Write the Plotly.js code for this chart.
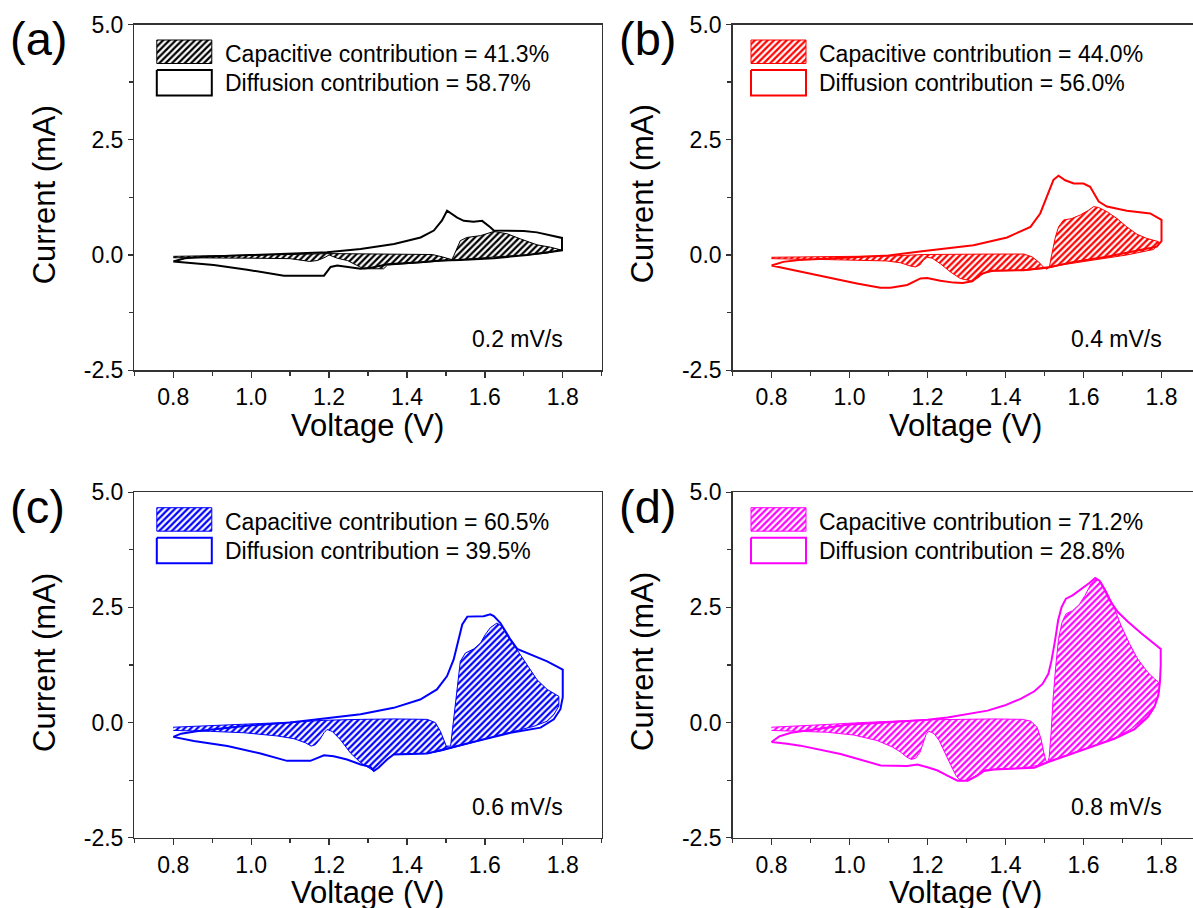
<!DOCTYPE html>
<html>
<head>
<meta charset="utf-8">
<script src="https://cdn.plot.ly/plotly-3.0.1.min.js"></script>
<style>
  html, body { margin: 0; padding: 0; background: #ffffff; overflow: hidden; }
  #chart { width: 1193px; height: 908px; }
</style>
</head>
<body>
<div id="chart"></div>
<script>
// ---------- CV loops (total current) and capacitive contribution loops ----------
// Panel (a) 0.2 mV/s
const cvV_a = [0.80,0.83,0.88,0.95,1.02,1.10,1.195,1.281,1.367,1.435,1.469,1.49,1.503,1.529,1.546,1.571,1.593,1.614,1.623,1.70,1.734,1.798,1.798,1.709,1.623,1.537,1.486,1.435,1.35,1.306,1.281,1.221,1.204,1.187,1.084,0.99,0.904,0.80];
const cvI_a = [-0.14,-0.07,-0.04,-0.02,0.00,0.03,0.06,0.13,0.24,0.38,0.53,0.75,0.96,0.81,0.74,0.72,0.74,0.60,0.53,0.52,0.49,0.37,0.10,0.00,-0.07,-0.11,-0.12,-0.16,-0.20,-0.28,-0.30,-0.23,-0.26,-0.45,-0.45,-0.32,-0.22,-0.14];
const capV_a = [0.80,0.90,1.00,1.10,1.20,1.30,1.40,1.465,1.49,1.515,1.52,1.525,1.537,1.554,1.589,1.623,1.657,1.691,1.734,1.768,1.795,1.76,1.709,1.631,1.537,1.48,1.40,1.35,1.34,1.289,1.27,1.247,1.221,1.20,1.19,1.17,1.15,1.13,1.10,1.00,0.90,0.80];
const capI_a = [-0.03,-0.02,-0.01,0.01,0.03,0.02,0.02,0.01,-0.04,-0.10,-0.02,0.09,0.31,0.38,0.42,0.51,0.46,0.35,0.22,0.17,0.11,0.04,0.00,-0.04,-0.10,-0.14,-0.18,-0.22,-0.30,-0.30,-0.22,-0.12,-0.07,0.00,-0.05,-0.12,-0.14,-0.11,-0.08,-0.07,-0.06,-0.06];

// Panel (b) 0.4 mV/s
const cvV_b = [0.80,0.83,0.87,0.93,1.00,1.10,1.186,1.25,1.318,1.404,1.464,1.489,1.506,1.523,1.536,1.553,1.575,1.600,1.617,1.639,1.660,1.711,1.771,1.800,1.800,1.788,1.745,1.660,1.575,1.515,1.446,1.361,1.336,1.315,1.290,1.267,1.233,1.199,1.182,1.165,1.148,1.105,1.079,1.019,0.934,0.849,0.80];
const cvI_b = [-0.23,-0.15,-0.11,-0.08,-0.05,-0.01,0.08,0.15,0.21,0.38,0.61,0.90,1.26,1.63,1.72,1.62,1.55,1.55,1.48,1.16,1.05,0.96,0.90,0.76,0.30,0.18,0.11,-0.04,-0.15,-0.26,-0.33,-0.34,-0.42,-0.57,-0.61,-0.60,-0.56,-0.50,-0.51,-0.58,-0.65,-0.71,-0.71,-0.62,-0.47,-0.33,-0.23];
const capV_b = [0.80,0.874,0.985,1.113,1.19,1.284,1.37,1.447,1.468,1.485,1.498,1.506,1.513,1.519,1.528,1.536,1.549,1.57,1.592,1.613,1.626,1.639,1.66,1.686,1.711,1.737,1.762,1.792,1.792,1.78,1.711,1.626,1.541,1.506,1.455,1.37,1.344,1.327,1.31,1.284,1.259,1.233,1.212,1.199,1.19,1.18,1.169,1.156,1.131,1.096,1.028,0.943,0.857,0.80];
const capI_b = [-0.05,-0.04,-0.04,-0.02,0.01,0.02,0.02,0.02,-0.04,-0.15,-0.27,-0.31,-0.24,0.03,0.39,0.61,0.76,0.79,0.87,0.97,1.05,1.03,0.94,0.79,0.61,0.45,0.36,0.29,0.22,0.12,0.00,-0.11,-0.22,-0.29,-0.33,-0.35,-0.40,-0.51,-0.56,-0.51,-0.37,-0.19,-0.07,-0.05,-0.11,-0.22,-0.26,-0.24,-0.17,-0.13,-0.11,-0.10,-0.09,-0.08];

// Panel (c) 0.6 mV/s
const cvV_c = [0.80,0.82,0.86,0.90,0.95,1.00,1.10,1.187,1.281,1.366,1.434,1.477,1.503,1.52,1.533,1.542,1.555,1.597,1.614,1.623,1.64,1.666,1.683,1.726,1.76,1.80,1.80,1.794,1.777,1.743,1.666,1.58,1.512,1.452,1.366,1.349,1.327,1.315,1.306,1.281,1.246,1.212,1.187,1.152,1.092,1.024,0.939,0.853,0.80];
const cvI_c = [-0.31,-0.24,-0.19,-0.15,-0.10,-0.06,0.00,0.08,0.18,0.32,0.50,0.72,1.01,1.37,1.80,2.13,2.30,2.31,2.35,2.31,2.16,1.80,1.60,1.45,1.33,1.15,0.55,0.29,0.07,-0.11,-0.22,-0.40,-0.55,-0.67,-0.69,-0.80,-0.98,-1.05,-0.96,-0.91,-0.80,-0.73,-0.71,-0.83,-0.83,-0.67,-0.51,-0.40,-0.31];
const capV_c = [0.80,0.896,1.024,1.11,1.187,1.281,1.366,1.452,1.473,1.486,1.495,1.501,1.512,1.516,1.522,1.529,1.537,1.55,1.572,1.589,1.601,1.614,1.631,1.644,1.661,1.682,1.708,1.734,1.76,1.79,1.79,1.777,1.76,1.726,1.666,1.58,1.512,1.486,1.452,1.366,1.349,1.327,1.315,1.302,1.281,1.255,1.229,1.208,1.195,1.187,1.176,1.165,1.154,1.14,1.11,1.067,0.981,0.896,0.819,0.80];
const capI_c = [-0.10,-0.06,-0.02,0.01,0.05,0.07,0.08,0.07,0.00,-0.19,-0.37,-0.51,-0.51,-0.22,0.35,0.86,1.33,1.51,1.60,1.73,1.91,2.06,2.16,2.09,1.84,1.59,1.26,0.93,0.72,0.57,0.36,0.17,0.03,-0.08,-0.21,-0.40,-0.55,-0.62,-0.67,-0.69,-0.80,-0.98,-1.05,-0.98,-0.87,-0.66,-0.37,-0.19,-0.15,-0.22,-0.37,-0.48,-0.51,-0.44,-0.35,-0.29,-0.22,-0.19,-0.17,-0.17];

// Panel (d) 0.8 mV/s
const cvV_d = [0.80,0.82,0.85,0.90,0.95,1.00,1.071,1.157,1.20,1.251,1.303,1.354,1.397,1.44,1.474,1.495,1.51,1.518,1.527,1.535,1.544,1.555,1.572,1.594,1.615,1.63,1.641,1.654,1.666,1.688,1.714,1.748,1.778,1.798,1.798,1.796,1.792,1.782,1.765,1.731,1.679,1.628,1.585,1.542,1.508,1.474,1.422,1.371,1.345,1.328,1.303,1.277,1.251,1.226,1.200,1.174,1.148,1.080,0.977,0.90,0.874,0.84,0.80];
const cvI_d = [-0.42,-0.30,-0.22,-0.16,-0.09,-0.04,-0.01,0.03,0.06,0.11,0.18,0.26,0.37,0.52,0.68,0.84,1.06,1.35,1.78,2.22,2.51,2.69,2.76,2.89,3.03,3.14,3.08,2.89,2.67,2.40,2.19,1.94,1.73,1.60,1.24,0.88,0.59,0.34,0.12,-0.14,-0.35,-0.50,-0.62,-0.75,-0.86,-0.98,-1.00,-1.02,-1.05,-1.15,-1.26,-1.26,-1.15,-1.04,-0.97,-0.91,-0.94,-0.93,-0.68,-0.55,-0.50,-0.46,-0.42];
const capV_d = [0.80,0.857,0.943,1.029,1.114,1.191,1.285,1.371,1.444,1.465,1.481,1.491,1.498,1.504,1.508,1.512,1.517,1.522,1.529,1.536,1.545,1.555,1.572,1.589,1.604,1.619,1.632,1.645,1.66,1.678,1.696,1.718,1.739,1.765,1.782,1.795,1.793,1.786,1.775,1.756,1.722,1.679,1.628,1.585,1.542,1.512,1.482,1.44,1.388,1.345,1.324,1.303,1.284,1.273,1.26,1.244,1.23,1.217,1.204,1.197,1.19,1.181,1.17,1.159,1.147,1.131,1.11,1.071,1.011,0.943,0.874,0.80];
const capI_d = [-0.10,-0.08,-0.04,0.00,0.03,0.06,0.07,0.08,0.07,0.03,-0.10,-0.35,-0.64,-0.84,-0.87,-0.75,-0.21,0.52,1.24,1.82,2.18,2.36,2.43,2.56,2.76,3.01,3.12,3.05,2.83,2.51,2.11,1.71,1.38,1.09,0.95,0.86,0.66,0.44,0.23,0.07,-0.14,-0.34,-0.50,-0.62,-0.75,-0.84,-0.93,-0.99,-1.00,-1.03,-1.15,-1.26,-1.26,-1.15,-0.93,-0.64,-0.39,-0.24,-0.19,-0.24,-0.42,-0.64,-0.77,-0.80,-0.75,-0.64,-0.53,-0.39,-0.27,-0.21,-0.19,-0.17];

// ---------- labels ----------
const panelLetters = ['(a)', '(b)', '(c)', '(d)'];
const scanRates = ['0.2 mV/s', '0.4 mV/s', '0.6 mV/s', '0.8 mV/s'];
const capPercent = ['41.3%', '44.0%', '60.5%', '71.2%'];
const difPercent = ['58.7%', '56.0%', '39.5%', '28.8%'];
const seriesColors = ['#000000', '#ff0000', '#0000ff', '#ff00ff'];
const xTickVals = [0.8, 1.0, 1.2, 1.4, 1.6, 1.8];
const xTickText = ['0.8', '1.0', '1.2', '1.4', '1.6', '1.8'];
const yTickVals = [-2.5, 0, 2.5, 5];
const yTickText = ['-2.5', '0.0', '2.5', '5.0'];
const xLabel = 'Voltage (V)';
const yLabel = 'Current (mA)';

const cvSets = [[cvV_a, cvI_a], [cvV_b, cvI_b], [cvV_c, cvI_c], [cvV_d, cvI_d]];
const capSets = [[capV_a, capI_a], [capV_b, capI_b], [capV_c, capI_c], [capV_d, capI_d]];

// ---------- page geometry (pixels) ----------
const W = 1193, H = 908;
const FONT = 'Liberation Sans, Arial, Helvetica, sans-serif';
const AXIS_COLOR = '#333333';
const Y_RANGE = [-2.5, 5];
const cols = [
  { l: 134.3, r: 601.7, pxPerV: 389.5, swatchX: 22.5, textX: 89, letterX: 8, titleCX: 367.5, yTitleCX: 44 },
  { l: 732.5, r: 1193, pxPerV: 390.0, swatchX: 18.5, textX: 84, letterX: 617, titleCX: 965.5, yTitleCX: 642 }
];
const rows = [
  { t: 24.5, b: 370.2, letterY: 38.5 },
  { t: 492.2, b: 837.8, letterY: 506 }
];
const panels = [[0, 0], [0, 1], [1, 0], [1, 1]]; // [row, col]

const traces = [];
const annotations = [];
const layout = {
  width: W, height: H,
  margin: { l: 0, r: 0, t: 0, b: 0, pad: 0 },
  paper_bgcolor: 'white', plot_bgcolor: 'white',
  showlegend: false,
  font: { family: FONT, color: '#000000' },
  annotations: annotations
};

panels.forEach(function (rc, i) {
  const row = rows[rc[0]], col = cols[rc[1]];
  const color = seriesColors[i];
  const sfx = i === 0 ? '' : String(i + 1);
  const xId = 'x' + sfx, yId = 'y' + sfx;
  const x0 = 0.7;
  const x1 = x0 + (col.r - col.l) / col.pxPerV;
  const plotH = row.b - row.t;
  const pxPerI = plotH / (Y_RANGE[1] - Y_RANGE[0]);

  // convert an offset (px from the plot's top-left corner) into axis units
  const toX = function (px) { return x0 + px / col.pxPerV; };
  const toY = function (py) { return Y_RANGE[1] - py / pxPerI; };

  layout['xaxis' + sfx] = {
    domain: [col.l / W, col.r / W], range: [x0, x1], anchor: yId,
    showline: true, linecolor: AXIS_COLOR, linewidth: 1.3, mirror: true,
    ticks: 'outside', ticklen: 6, tickwidth: 1.3, tickcolor: AXIS_COLOR,
    tickmode: 'array', tickvals: xTickVals, ticktext: xTickText,
    minor: { dtick: 0.1, tick0: 0.7, ticks: 'outside', ticklen: 4, tickwidth: 1.3, tickcolor: AXIS_COLOR },
    showgrid: false, zeroline: false, fixedrange: true,
    tickfont: { family: FONT, size: 23, color: '#000000' }
  };
  layout['yaxis' + sfx] = {
    domain: [1 - row.b / H, 1 - row.t / H], range: Y_RANGE, anchor: xId,
    showline: true, linecolor: AXIS_COLOR, linewidth: 1.3, mirror: rc[1] === 0,
    ticks: 'outside', ticklen: 5, tickwidth: 1.3, tickcolor: AXIS_COLOR,
    tickmode: 'array', tickvals: yTickVals, ticktext: yTickText,
    minor: { dtick: 1.25, tick0: 0, ticks: 'outside', ticklen: 4, tickwidth: 1.3, tickcolor: AXIS_COLOR },
    showgrid: false, zeroline: false, fixedrange: true,
    tickfont: { family: FONT, size: 23, color: '#000000' }
  };

  const hatch = { shape: '/', fgcolor: color, bgcolor: 'rgba(255,255,255,0)', size: 4.5, solidity: 0.5 };

  // capacitive contribution (hatched loop)
  traces.push({
    x: capSets[i][0], y: capSets[i][1], xaxis: xId, yaxis: yId,
    type: 'scatter', mode: 'lines', fill: 'toself',
    fillcolor: 'rgba(255,255,255,0)', fillpattern: hatch,
    line: { color: color, width: 1 }, hoverinfo: 'skip'
  });
  // total CV curve
  traces.push({
    x: cvSets[i][0], y: cvSets[i][1], xaxis: xId, yaxis: yId,
    type: 'scatter', mode: 'lines',
    line: { color: color, width: 2 }, hoverinfo: 'skip'
  });

  // key swatches
  const sx0 = col.swatchX, sx1 = col.swatchX + 55;
  traces.push({
    x: [toX(sx0), toX(sx1), toX(sx1), toX(sx0), toX(sx0)],
    y: [toY(15.5), toY(15.5), toY(39), toY(39), toY(15.5)],
    xaxis: xId, yaxis: yId, type: 'scatter', mode: 'lines', fill: 'toself',
    fillcolor: 'rgba(255,255,255,0)', fillpattern: hatch,
    line: { color: color, width: 1 }, hoverinfo: 'skip'
  });
  traces.push({
    x: [toX(sx0), toX(sx1), toX(sx1), toX(sx0), toX(sx0)],
    y: [toY(45.5), toY(45.5), toY(71), toY(71), toY(45.5)],
    xaxis: xId, yaxis: yId, type: 'scatter', mode: 'lines', fill: 'toself',
    fillcolor: '#ffffff',
    line: { color: color, width: 2 }, hoverinfo: 'skip'
  });

  const textFont = { family: FONT, size: 23, color: '#000000' };
  const titleFont = { family: FONT, size: 31, color: '#000000' };
  annotations.push({
    xref: 'paper', yref: 'paper', x: (col.l + col.textX) / W, y: 1 - (row.t + 29.5) / H,
    xanchor: 'left', yanchor: 'middle', showarrow: false,
    text: 'Capacitive contribution = ' + capPercent[i], font: textFont
  });
  annotations.push({
    xref: 'paper', yref: 'paper', x: (col.l + col.textX) / W, y: 1 - (row.t + 58.5) / H,
    xanchor: 'left', yanchor: 'middle', showarrow: false,
    text: 'Diffusion contribution = ' + difPercent[i], font: textFont
  });
  annotations.push({
    xref: 'paper', yref: 'paper',
    x: (col.l + (1.8 - x0) * col.pxPerV + 2) / W, y: 1 - (row.b - 31) / H,
    xanchor: 'right', yanchor: 'middle', showarrow: false,
    text: scanRates[i], font: textFont
  });
  // axis titles
  annotations.push({
    xref: 'paper', yref: 'paper', x: col.titleCX / W, y: 1 - (row.b + 55) / H,
    xanchor: 'center', yanchor: 'middle', showarrow: false,
    text: xLabel, font: titleFont
  });
  annotations.push({
    xref: 'paper', yref: 'paper', x: col.yTitleCX / W, y: 1 - ((row.t + row.b) / 2 - 3) / H,
    xanchor: 'center', yanchor: 'middle', showarrow: false, textangle: -90,
    text: yLabel, font: titleFont
  });
  annotations.push({
    xref: 'paper', yref: 'paper', x: col.letterX / W, y: 1 - row.letterY / H,
    xanchor: 'left', yanchor: 'middle', showarrow: false,
    text: panelLetters[i], font: { family: FONT, size: 47, color: '#000000' }
  });
});

Plotly.newPlot('chart', traces, layout, { staticPlot: true, displayModeBar: false });
</script>
</body>
</html>
